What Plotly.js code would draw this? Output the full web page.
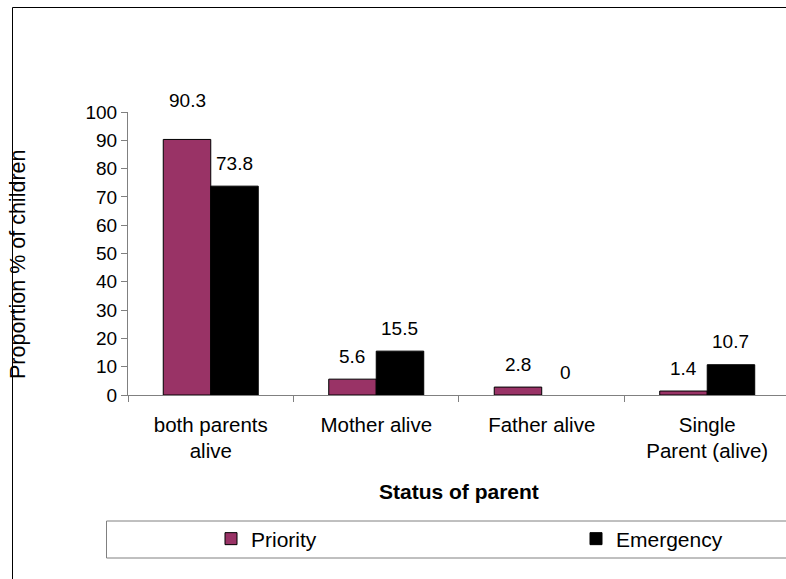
<!DOCTYPE html>
<html>
<head>
<meta charset="utf-8">
<script src="https://cdn.plot.ly/plotly-3.0.1.min.js"></script>
<style>html,body{margin:0;padding:0;background:#fff;overflow:hidden}</style>
</head>
<body>
<div id="chart" style="width:786px;height:579px"></div>
<script>
const categories = ["both parents<br>alive", "Mother alive", "Father alive", "Single<br>Parent (alive)"];
const priority = [90.3, 5.6, 2.8, 1.4];
const emergency = [73.8, 15.5, 0, 10.7];
const seriesNames = ["Priority", "Emergency"];
const yTicks = [0, 10, 20, 30, 40, 50, 60, 70, 80, 90, 100];

const FONT = '"Liberation Sans", Arial, sans-serif';
const W = 786, H = 579, ML = 128, MR = 0, MT = 112, MB = 184;
const PW = W - ML - MR, PH = H - MT - MB;
const px2x = p => (p - ML) / PW;
const px2y = p => (H - MB - p) / PH;

const lineW = vals => vals.map(v => v === 0 ? 0 : 1);

const traces = [
  {type: 'bar', name: seriesNames[0], x: categories, y: priority, legend: 'legend',
   marker: {color: '#993366', line: {color: '#000', width: lineW(priority)}}, hoverinfo: 'none'},
  {type: 'bar', name: seriesNames[1], x: categories, y: emergency, legend: 'legend2',
   marker: {color: '#000000', line: {color: '#000', width: lineW(emergency)}}, hoverinfo: 'none'}
];

const bargap = 0.426;
const catPx = PW / 3.976;
const barPx = catPx * (1 - bargap) / 2;

const annotations = [];
[priority, emergency].forEach((vals, s) => {
  vals.forEach((v, i) => {
    annotations.push({
      x: categories[i], y: v, xref: 'x', yref: 'y',
      text: String(v), showarrow: false,
      xshift: (s === 0 ? -1 : 1) * barPx / 2,
      yshift: (s === 0 && i === 0) ? 39 : 23,
      yanchor: 'middle', xanchor: 'center',
      font: {family: FONT, size: 19, color: '#000'}
    });
  });
});
annotations.push({
  text: 'Proportion % of children', textangle: -90, showarrow: false,
  xref: 'paper', yref: 'paper', x: px2x(18), y: px2y(265),
  xanchor: 'center', yanchor: 'middle',
  font: {family: FONT, size: 21.5, color: '#000'}
});
annotations.push({
  text: '<b>Status of parent</b>', showarrow: false,
  xref: 'paper', yref: 'paper', x: px2x(459), y: px2y(491),
  xanchor: 'center', yanchor: 'middle',
  font: {family: FONT, size: 21, color: '#000'}
});

const legendBase = {orientation: 'h', yanchor: 'middle', xanchor: 'left',
  bgcolor: 'rgba(0,0,0,0)', borderwidth: 0,
  font: {family: FONT, size: 21, color: '#000'}};

const layout = {
  width: W, height: H,
  margin: {l: ML, r: MR, t: MT, b: MB, pad: 0},
  paper_bgcolor: '#fff', plot_bgcolor: '#fff',
  font: {family: FONT, size: 19, color: '#000'},
  barmode: 'group', bargap: bargap, bargroupgap: 0,
  showlegend: true,
  legend: Object.assign({}, legendBase, {x: px2x(211), y: px2y(539)}),
  legend2: Object.assign({}, legendBase, {x: px2x(576), y: px2y(539)}),
  xaxis: {type: 'category', range: [-0.5, 3.476], showline: true, linecolor: '#808080', linewidth: 1,
          ticks: 'outside', tickson: 'boundaries', ticklen: 6, tickcolor: '#808080',
          showgrid: false, zeroline: false, fixedrange: true, ticklabelstandoff: 11,
          tickfont: {family: FONT, size: 20.5, color: '#000'}},
  yaxis: {range: [0, 100], tickvals: yTicks, showline: true, linecolor: '#808080', linewidth: 1,
          ticks: 'outside', ticklen: 6, tickcolor: '#808080',
          showgrid: false, zeroline: false, fixedrange: true,
          tickfont: {family: FONT, size: 19, color: '#000'}},
  shapes: [
    {type: 'rect', xref: 'paper', yref: 'paper', x0: px2x(12.5), x1: px2x(800), y0: px2y(7.5), y1: px2y(600),
     line: {color: '#000', width: 1}, fillcolor: 'rgba(0,0,0,0)', layer: 'below'},
    {type: 'rect', xref: 'paper', yref: 'paper', x0: px2x(106.5), x1: px2x(800), y0: px2y(521), y1: px2y(558),
     line: {color: '#808080', width: 1}, fillcolor: 'rgba(0,0,0,0)', layer: 'below'}
  ],
  annotations: annotations
};

Plotly.newPlot('chart', traces, layout, {staticPlot: true, displayModeBar: false});
</script>
</body>
</html>
